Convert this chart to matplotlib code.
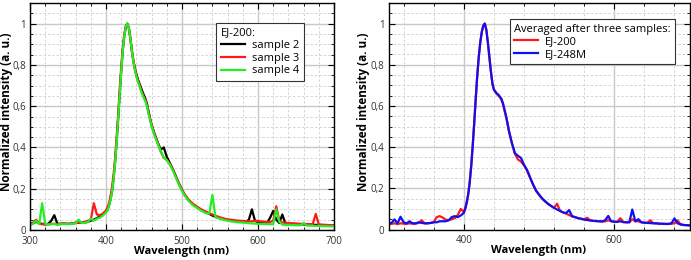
import matplotlib
matplotlib.use("Agg")
import matplotlib.pyplot as plt
from matplotlib.ticker import MultipleLocator, FuncFormatter

plt.rcParams['font.family'] = ['Open Sans', 'DejaVu Sans']

# wavelength grid (nm)
wl = ([300, 304, 308, 312, 316, 320, 324, 328, 332, 336, 340, 344, 348, 352, 356,
       360, 364, 368, 372, 376, 380, 384, 388, 392, 396]
      + [400, 402, 404, 406, 408, 410, 412, 414, 416, 418, 420, 422, 424, 426, 428,
         430, 432, 434, 436, 438, 440, 442, 444, 446, 448, 450, 452, 454, 456, 458]
      + [460, 464, 468, 472, 476, 480, 484, 488, 492, 496, 500, 504, 508, 512, 516,
         520, 524, 528, 532, 536, 540, 544, 548, 552, 556, 560, 564, 568, 572, 576,
         580, 584, 588, 592, 596, 600, 604, 608, 612, 616, 620, 624, 628, 632, 636,
         640, 644, 648, 652, 656, 660, 664, 668, 672, 676, 680, 684, 688, 692, 696, 700])

# ---- left panel: EJ-200 samples ----
sample2 = ([0.030, 0.032, 0.040, 0.032, 0.030, 0.028, 0.030, 0.045, 0.072, 0.030, 0.030, 0.032, 0.030, 0.030, 0.032,
            0.035, 0.036, 0.036, 0.036, 0.040, 0.045, 0.050, 0.058, 0.065, 0.075]
           + [0.090, 0.100, 0.120, 0.150, 0.190, 0.250, 0.330, 0.430, 0.540, 0.660, 0.770, 0.870, 0.940, 0.985, 1.000,
              0.980, 0.930, 0.870, 0.820, 0.785, 0.755, 0.730, 0.710, 0.690, 0.670, 0.652, 0.635, 0.610, 0.575, 0.540]
           + [0.510, 0.465, 0.425, 0.390, 0.400, 0.355, 0.325, 0.295, 0.260, 0.225, 0.195, 0.168, 0.148, 0.132, 0.120,
              0.110, 0.100, 0.092, 0.085, 0.078, 0.070, 0.064, 0.059, 0.055, 0.051, 0.048, 0.046, 0.044, 0.042, 0.041,
              0.040, 0.039, 0.050, 0.100, 0.045, 0.037, 0.036, 0.035, 0.035, 0.060, 0.092, 0.050, 0.034, 0.075, 0.032,
              0.030, 0.030, 0.029, 0.028, 0.028, 0.027, 0.026, 0.026, 0.025, 0.025, 0.024, 0.024, 0.023, 0.022, 0.022, 0.021])

sample3 = ([0.028, 0.035, 0.050, 0.030, 0.028, 0.026, 0.028, 0.030, 0.030, 0.028, 0.030, 0.032, 0.030, 0.030, 0.032,
            0.035, 0.036, 0.036, 0.038, 0.045, 0.050, 0.130, 0.075, 0.072, 0.080]
           + [0.095, 0.110, 0.130, 0.165, 0.210, 0.270, 0.350, 0.450, 0.560, 0.680, 0.790, 0.880, 0.945, 0.985, 1.000,
              0.980, 0.930, 0.870, 0.820, 0.780, 0.748, 0.724, 0.702, 0.680, 0.660, 0.643, 0.628, 0.603, 0.568, 0.538]
           + [0.508, 0.462, 0.422, 0.380, 0.350, 0.340, 0.320, 0.292, 0.258, 0.224, 0.194, 0.169, 0.150, 0.135, 0.123,
              0.113, 0.103, 0.095, 0.088, 0.081, 0.075, 0.069, 0.064, 0.059, 0.055, 0.052, 0.050, 0.048, 0.046, 0.045,
              0.044, 0.043, 0.042, 0.042, 0.045, 0.044, 0.042, 0.040, 0.040, 0.039, 0.045, 0.115, 0.045, 0.036, 0.035,
              0.034, 0.033, 0.032, 0.031, 0.030, 0.030, 0.029, 0.028, 0.028, 0.078, 0.027, 0.026, 0.025, 0.024, 0.023, 0.022])

sample4 = ([0.022, 0.030, 0.045, 0.028, 0.130, 0.030, 0.026, 0.028, 0.030, 0.024, 0.028, 0.030, 0.028, 0.028, 0.030,
            0.032, 0.050, 0.034, 0.034, 0.038, 0.055, 0.045, 0.055, 0.060, 0.070]
           + [0.085, 0.095, 0.115, 0.145, 0.185, 0.245, 0.325, 0.425, 0.535, 0.655, 0.765, 0.865, 0.935, 0.982, 1.000,
              0.980, 0.930, 0.870, 0.815, 0.775, 0.742, 0.718, 0.698, 0.675, 0.655, 0.638, 0.622, 0.598, 0.563, 0.532]
           + [0.502, 0.456, 0.418, 0.383, 0.352, 0.338, 0.318, 0.288, 0.253, 0.219, 0.189, 0.164, 0.144, 0.128, 0.116,
              0.106, 0.096, 0.088, 0.081, 0.080, 0.170, 0.062, 0.057, 0.052, 0.048, 0.045, 0.042, 0.040, 0.038, 0.037,
              0.036, 0.034, 0.033, 0.032, 0.031, 0.030, 0.030, 0.029, 0.029, 0.028, 0.028, 0.100, 0.040, 0.026, 0.025,
              0.025, 0.024, 0.024, 0.023, 0.023, 0.034, 0.022, 0.021, 0.021, 0.020, 0.020, 0.019, 0.019, 0.018, 0.018, 0.018])

# ---- right panel: averaged ----
ej200 = ([0.025, 0.027, 0.030, 0.026, 0.030, 0.028, 0.027, 0.030, 0.028, 0.028, 0.032, 0.045, 0.030, 0.030, 0.032,
          0.035, 0.060, 0.065, 0.058, 0.048, 0.045, 0.050, 0.055, 0.070, 0.100]
         + [0.085, 0.105, 0.135, 0.175, 0.235, 0.315, 0.415, 0.525, 0.640, 0.750, 0.840, 0.910, 0.960, 0.990, 1.000,
            0.970, 0.910, 0.840, 0.770, 0.712, 0.680, 0.668, 0.658, 0.650, 0.642, 0.630, 0.610, 0.580, 0.550, 0.515]
         + [0.478, 0.418, 0.368, 0.340, 0.330, 0.312, 0.287, 0.252, 0.218, 0.188, 0.168, 0.150, 0.136, 0.124, 0.114,
            0.106, 0.125, 0.090, 0.083, 0.077, 0.070, 0.064, 0.060, 0.055, 0.052, 0.050, 0.057, 0.044, 0.042, 0.041,
            0.040, 0.039, 0.040, 0.045, 0.040, 0.038, 0.037, 0.055, 0.036, 0.035, 0.035, 0.050, 0.040, 0.040, 0.035,
            0.033, 0.032, 0.045, 0.030, 0.030, 0.028, 0.028, 0.027, 0.027, 0.028, 0.030, 0.045, 0.025, 0.022, 0.021, 0.020])

ej248m = ([0.030, 0.032, 0.049, 0.030, 0.062, 0.035, 0.030, 0.040, 0.030, 0.030, 0.035, 0.032, 0.030, 0.030, 0.032,
           0.035, 0.035, 0.040, 0.040, 0.040, 0.045, 0.060, 0.065, 0.060, 0.068]
          + [0.080, 0.100, 0.130, 0.170, 0.230, 0.310, 0.410, 0.520, 0.640, 0.750, 0.840, 0.910, 0.960, 0.990, 1.000,
             0.970, 0.910, 0.840, 0.770, 0.710, 0.680, 0.670, 0.660, 0.655, 0.645, 0.635, 0.615, 0.585, 0.555, 0.520]
          + [0.480, 0.420, 0.370, 0.358, 0.348, 0.315, 0.290, 0.255, 0.220, 0.190, 0.170, 0.152, 0.138, 0.125, 0.115,
             0.105, 0.097, 0.090, 0.083, 0.080, 0.094, 0.064, 0.060, 0.055, 0.052, 0.048, 0.046, 0.044, 0.042, 0.041,
             0.040, 0.039, 0.045, 0.066, 0.040, 0.038, 0.037, 0.040, 0.036, 0.035, 0.035, 0.097, 0.040, 0.050, 0.035,
             0.033, 0.032, 0.031, 0.030, 0.030, 0.028, 0.028, 0.027, 0.027, 0.030, 0.054, 0.030, 0.025, 0.022, 0.021, 0.020])

left_labels = ["sample 2", "sample 3", "sample 4"]
left_colors = ["#000000", "#ff1a1a", "#22ee22"]
right_labels = ["EJ-200", "EJ-248M"]
right_colors = ["#ff1a1a", "#1010ee"]

fig = plt.figure(figsize=(6.91, 2.60), dpi=100)
ax1 = fig.add_axes([30 / 691, 30 / 260, 304 / 691, 227 / 260])
ax2 = fig.add_axes([388.5 / 691, 30.5 / 260, 301 / 691, 226.5 / 260])

comma = FuncFormatter(lambda v, p: ("%g" % round(v, 2)).replace(".", ","))


def style(ax, xmajor, xminor, ylab_x):
    ax.set_xlim(300, 700)
    ax.set_ylim(0, 1.1)
    ax.xaxis.set_major_locator(MultipleLocator(xmajor))
    ax.xaxis.set_minor_locator(MultipleLocator(xminor))
    ax.yaxis.set_major_locator(MultipleLocator(0.2))
    ax.yaxis.set_minor_locator(MultipleLocator(0.05))
    ax.yaxis.set_major_formatter(comma)
    ax.grid(which='major', color='#c8c8c8', linewidth=1.0, linestyle='-')
    ax.grid(which='minor', color='#d4d4d4', linewidth=0.7, linestyle=(0, (2.5, 2)))
    ax.set_axisbelow(True)
    ax.tick_params(which='both', direction='in', top=True, right=True,
                   labelsize=7, colors='#000000', labelcolor='#333333')
    ax.tick_params(axis='y', which='both', pad=3)
    ax.tick_params(axis='x', which='both', pad=4)
    ax.tick_params(which='major', length=4, width=0.8)
    ax.tick_params(which='minor', length=2.5, width=0.6)
    for s in ax.spines.values():
        s.set_linewidth(1.0)
    ax.set_xlabel("Wavelength (nm)", fontsize=8, fontweight='bold')
    ax.xaxis.set_label_coords(0.5, -0.07)
    ax.set_ylabel("Normalized intensity (a. u.)", fontsize=8.5, fontweight='bold')
    ax.yaxis.set_label_coords(ylab_x, 0.52)


style(ax1, 100, 20, -0.056)
style(ax2, 200, 40, -0.061)

for ys, lab, c in zip([sample2, sample3, sample4], left_labels, left_colors):
    ax1.plot(wl, ys, color=c, lw=1.6, label=lab)
for ys, lab, c in zip([ej200, ej248m], right_labels, right_colors):
    ax2.plot(wl, ys, color=c, lw=1.6, label=lab)

for ax, title, anchor in [(ax1, "EJ-200:", (0.90, 0.912)),
                          (ax2, "Averaged after three samples:", (0.952, 0.929))]:
    leg = ax.legend(title=title, loc='upper right', bbox_to_anchor=anchor,
                    fontsize=8, title_fontsize=8, frameon=True, fancybox=False,
                    edgecolor='#333333', framealpha=1, handlelength=2.2,
                    borderpad=0.4, labelspacing=0.15, handletextpad=0.6,
                    borderaxespad=0)
    leg._legend_box.align = "left"
    leg.get_frame().set_linewidth(0.8)

fig.savefig("out.png", dpi=100)
